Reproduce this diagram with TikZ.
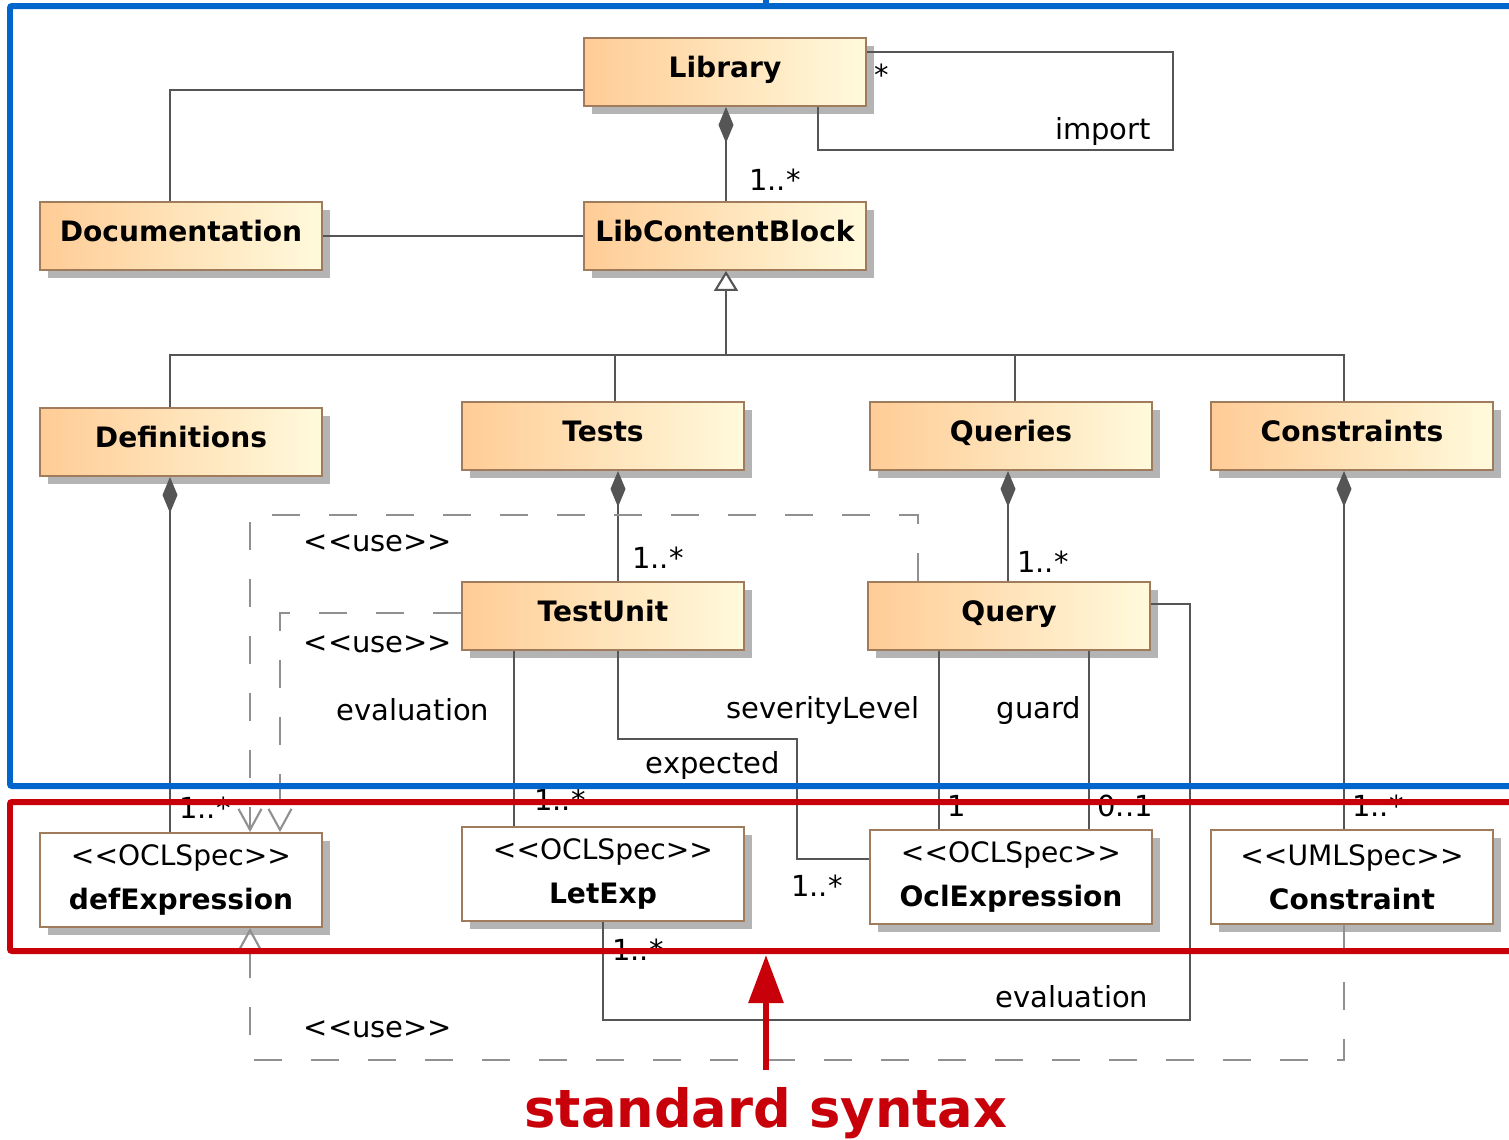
\documentclass[tikz,border=0pt]{standalone}
\usepackage{fontspec}
\setmainfont{DejaVu Sans}
\usetikzlibrary{arrows.meta,calc,shadows}
\definecolor{boxL}{HTML}{FFCC96}
\definecolor{boxR}{HTML}{FFFADC}
\definecolor{boxB}{HTML}{A07C5C}
\definecolor{shd}{HTML}{B4B4B4}
\definecolor{lineC}{HTML}{555555}
\definecolor{dashC}{HTML}{909090}
\definecolor{frameBlue}{HTML}{0066CC}
\definecolor{frameRed}{HTML}{C8000A}
\begin{document}
\begin{tikzpicture}[x=0.02cm, y=-0.02cm,
  cls/.style={draw=boxB, line width=1.1pt, shading=axis, left color=boxL, right color=boxR,
    minimum width=5.64cm, minimum height=1.36cm, inner sep=0pt,
    text height=12pt, text depth=6pt,
    font=\bfseries\fontsize{16}{19}\selectfont,
    drop shadow={shadow xshift=0.16cm, shadow yshift=-0.16cm, fill=shd, opacity=1}},
  spec/.style={draw=boxB, line width=1.1pt, fill=white, align=center,
    minimum width=5.64cm, minimum height=1.88cm, inner sep=0pt,
    font=\fontsize{16}{25}\selectfont,
    drop shadow={shadow xshift=0.16cm, shadow yshift=-0.16cm, fill=shd, opacity=1}},
  lbl/.style={font=\fontsize{16.5}{20}\selectfont, inner sep=0pt},
  assoc/.style={draw=lineC, line width=1.2pt},
  comp/.style={assoc, {Diamond[length=0.72cm,width=0.3cm]}-},
  gen/.style={assoc, -{Triangle[open, length=0.4cm, width=0.48cm, fill=white]}},
  usedep/.style={draw=dashC, line width=1.2pt, dash pattern=on 0.57cm off 0.57cm,
    -{Straight Barb[length=0.42cm, width=0.46cm]}},
  frame/.style={line width=0.12cm, rounded corners=0.04cm}
]
\useasboundingbox (0,0) rectangle (1509,1140);
\clip (0,0) rectangle (1509,1140);

% classes
\node[cls] (lib) at (725,72) {Library};
\node[cls] (lcb) at (725,236) {LibContentBlock};
\node[cls] (doc) at (181,236) {Documentation};
\node[cls] (defn) at (181,442) {Definitions};
\node[cls] (tests) at (603,436) {Tests};
\node[cls] (queries) at (1011,436) {Queries};
\node[cls] (cons) at (1352,436) {Constraints};
\node[cls] (tu) at (603,616) {TestUnit};
\node[cls] (query) at (1009,616) {Query};
\node[spec] (defx) at (181,880) {<{}<OCLSpec>{}>\\\textbf{defExpression}};
\node[spec] (letx) at (603,874) {<{}<OCLSpec>{}>\\\textbf{LetExp}};
\node[spec] (oclx) at (1011,877) {<{}<OCLSpec>{}>\\\textbf{OclExpression}};
\node[spec] (umlc) at (1352,877) {<{}<UMLSpec>{}>\\\textbf{Constraint}};

% associations
\draw[assoc] ($(lib.west)+(0,18)$) -| ($(doc.north)+(-11,0)$);
\draw[assoc] (doc.east) -- (lcb.west);
\draw[comp] ($(lib.south)+(1,0)$) -- ($(lcb.north)+(1,0)$);
\draw[assoc] ($(lib.east)+(0,-20)$) -- (1173,52) -- (1173,150) -- (818,150) -- ($(lib.south)+(93,0)$);

% generalization
\coordinate (gj) at (726,355);
\draw[gen] (gj) -- ($(lcb.south)+(1,0)$);
\draw[assoc] ($(defn.north)+(-11,0)$) |- (gj);
\draw[assoc] ($(tests.north)+(12,0)$) |- (gj);
\draw[assoc] ($(queries.north)+(4,0)$) |- (gj);
\draw[assoc] ($(cons.north)+(-8,0)$) |- (gj);

% compositions
\draw[comp] ($(defn.south)+(-11,0)$) -- ($(defx.north)+(-11,0)$);
\draw[comp] ($(tests.south)+(15,0)$) -- ($(tu.north)+(15,0)$);
\draw[comp] ($(queries.south)+(-3,0)$) -- ($(query.north)+(-1,0)$);
\draw[comp] ($(cons.south)+(-8,0)$) -- ($(umlc.north)+(-8,0)$);

% testunit / query associations
\draw[assoc] ($(tu.south)+(-89,0)$) -- ($(letx.north)+(-89,0)$);
\draw[assoc] ($(tu.south)+(15,0)$) |- (797,739) |- ($(oclx.west)+(0,-18)$);
\draw[assoc] ($(query.south)+(-70,0)$) -- ($(oclx.north)+(-72,0)$);
\draw[assoc] ($(query.south)+(80,0)$) -- ($(oclx.north)+(78,0)$);
\draw[assoc] ($(query.east)+(0,-12)$) -| (1190,1020) -| (letx.south);

% use dependencies
\draw[usedep] ($(query.north)+(-91,0)$) |- (250,515) -- ($(defx.north)+(69,0)$);
\draw[usedep] ($(tu.west)+(0,-3)$) -| ($(defx.north)+(99,0)$);
\draw[usedep] ($(umlc.south)+(-8,0)$) |- (250,1060) -- ($(defx.south)+(69,0)$);

% labels
\node[lbl] (m1) at (775,180) {1..*};
\node[lbl] (m2) at (882,75) {*};
\node[lbl] (l1) at (1103,131) {import};
\node[lbl] (m3) at (205,808) {1..*};
\node[lbl] (u1) at (378,543) {<{}<use>{}>};
\node[lbl] (u2) at (378,644) {<{}<use>{}>};
\node[lbl] (u3) at (378,1029) {<{}<use>{}>};
\node[lbl] (l2) at (413,710) {evaluation};
\node[lbl] (m4) at (560,800) {1..*};
\node[lbl] (m5) at (658,558) {1..*};
\node[lbl] (l3) at (823,710) {severityLevel};
\node[lbl] (l4) at (713,765) {expected};
\node[lbl] (m6) at (817,886) {1..*};
\node[lbl] (m7) at (1043,562) {1..*};
\node[lbl] (l5) at (1039,710) {guard};
\node[lbl] (m8) at (957,806) {1};
\node[lbl] (m9) at (1125,806) {0..1};
\node[lbl] (m10) at (1378,806) {1..*};
\node[lbl] (l6) at (1072,997) {evaluation};
\node[lbl] (m11) at (638,950) {1..*};

% frames
\draw[frame, frameBlue] (1540,6) -- (10,6) -- (10,786) -- (1540,786);
\draw[frameBlue, line width=0.12cm] (766,-5) -- (766,6);
\draw[frame, frameRed] (1540,802) -- (10,802) -- (10,951) -- (1540,951);

% standard syntax
\node[font=\bfseries\fontsize{30}{36}\selectfont, text=frameRed, inner sep=0pt, anchor=base] (std) at (766,1127) {standard syntax};
\coordinate (rs) at (766,1070);
\coordinate (re) at (766,955);
\draw[frameRed, line width=0.12cm, -{Triangle[length=0.96cm, width=0.68cm]}] (rs) -- (re);
\end{tikzpicture}
\end{document}
